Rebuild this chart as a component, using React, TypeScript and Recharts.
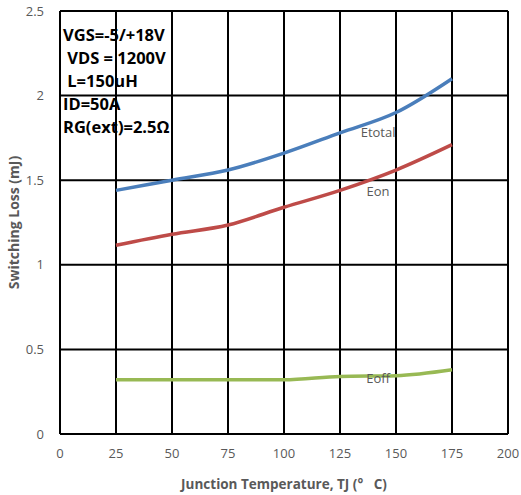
import { LineChart, Line, XAxis, YAxis, CartesianGrid, ReferenceDot, Label } from "recharts";

const temps = [25, 50, 75, 100, 125, 150, 175];
const etotal = [1.44, 1.5, 1.56, 1.66, 1.78, 1.9, 2.1];
const eon = [1.115, 1.18, 1.235, 1.34, 1.44, 1.56, 1.71];
const eoff = [0.32, 0.32, 0.32, 0.32, 0.34, 0.345, 0.38];

const xTicks = [0, 25, 50, 75, 100, 125, 150, 175, 200];
const yTicks = [0, 0.5, 1, 1.5, 2, 2.5];

const conditions = ["VGS=-5/+18V", " VDS = 1200V", " L=150uH", "ID=50A", "RG(ext)=2.5Ω"];

const data = temps.map((t, i) => ({ t, etotal: etotal[i], eon: eon[i], eoff: eoff[i] }));

const font = "Open Sans, Liberation Sans, sans-serif";
const tickStyle = { fontSize: 13, fill: "#595959", fontFamily: font };
const curveLabel = { fontSize: 13, fill: "#595959", fontFamily: font };

export default function App() {
  return (
    <div style={{ position: "absolute", left: 0, top: 0, width: 521, height: 495, background: "#fff" }}>
      <LineChart width={521} height={495} data={data} margin={{ top: 11, right: 13, left: 0, bottom: 0 }}>
        <CartesianGrid stroke="#000" strokeWidth={2} />
        <XAxis
          dataKey="t"
          type="number"
          domain={[0, 200]}
          ticks={xTicks}
          axisLine={false}
          tickLine={false}
          tick={tickStyle}
          height={61}
          tickMargin={9}
        >
          <Label
            value={"Junction Temperature, TJ (°\u00a0\u00a0 C)"}
            position="insideBottom"
            offset={6}
            style={{ fontSize: 13.5, fontWeight: "bold", fill: "#595959", fontFamily: font }}
          />
        </XAxis>
        <YAxis
          type="number"
          domain={[0, 2.5]}
          ticks={yTicks}
          axisLine={false}
          tickLine={false}
          tick={tickStyle}
          width={60}
          tickMargin={10}
        >
          <Label
            value="Switching Loss (mJ)"
            angle={-90}
            position="insideLeft"
            offset={14}
            style={{ fontSize: 14, fontWeight: "bold", fill: "#595959", fontFamily: font, textAnchor: "middle" }}
          />
        </YAxis>
        <Line type="monotone" dataKey="etotal" stroke="#4a7ebb" strokeWidth={3.5} dot={false} isAnimationActive={false} />
        <Line type="monotone" dataKey="eon" stroke="#be4b48" strokeWidth={3.5} dot={false} isAnimationActive={false} />
        <Line type="monotone" dataKey="eoff" stroke="#98b954" strokeWidth={3.5} dot={false} isAnimationActive={false} />
        <ReferenceDot x={142} y={1.78} r={0} label={{ value: "Etotal", position: "center", style: curveLabel }} />
        <ReferenceDot x={142} y={1.435} r={0} label={{ value: "Eon", position: "center", style: curveLabel }} />
        <ReferenceDot x={142} y={0.33} r={0} label={{ value: "Eoff", position: "center", style: curveLabel }} />
      </LineChart>
      <div
        style={{
          position: "absolute",
          left: 63,
          top: 23,
          fontFamily: font,
          fontWeight: "bold",
          fontSize: 16.5,
          lineHeight: "23px",
          color: "#000",
          whiteSpace: "pre",
        }}
      >
        {conditions.map((c) => (
          <div key={c}>{c}</div>
        ))}
      </div>
    </div>
  );
}
